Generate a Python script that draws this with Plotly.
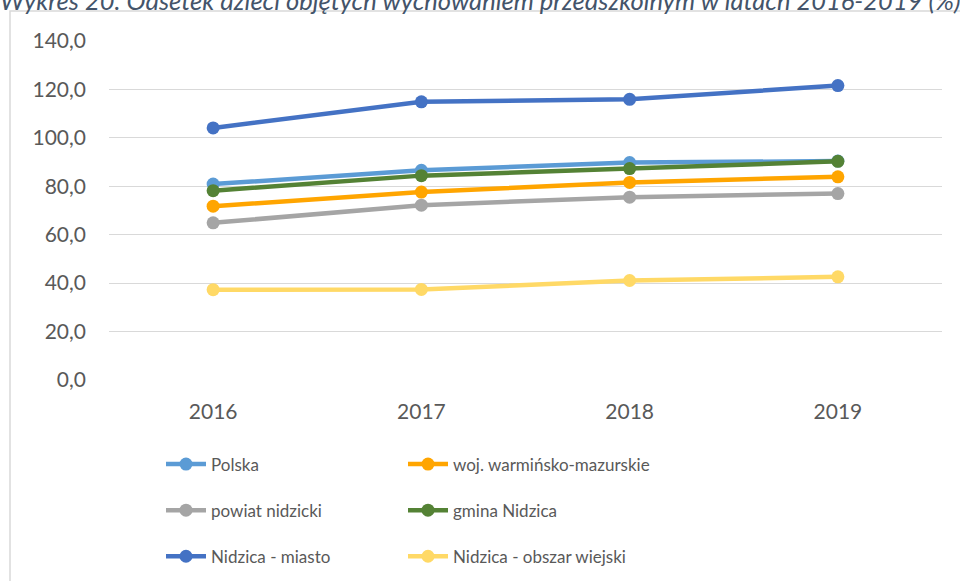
import plotly.graph_objects as go

years = ["2016", "2017", "2018", "2019"]
polska = [80.9, 86.6, 89.8, 90.4]
woj = [71.8, 77.6, 81.6, 83.9]
powiat = [64.9, 72.2, 75.5, 77.0]
gmina = [78.2, 84.4, 87.3, 90.3]
miasto = [104.1, 114.9, 115.9, 121.6]
wiejski = [37.3, 37.4, 41.1, 42.6]

series = [
    ("Polska", polska, "#5B9BD5", "legend", "g1"),
    ("woj. warmińsko-mazurskie", woj, "#FFA500", "legend2", "g2"),
    ("powiat nidzicki", powiat, "#A5A5A5", "legend", "g3"),
    ("gmina Nidzica", gmina, "#548235", "legend2", "g4"),
    ("Nidzica - miasto", miasto, "#4472C4", "legend", "g5"),
    ("Nidzica - obszar wiejski", wiejski, "#FFD966", "legend2", "g6"),
]

FONT = "Lato, 'Open Sans', sans-serif"
W, H = 960, 581
ML, MR, MT, MB = 109, 18, 41, 201
PW = W - ML - MR
PH = H - MT - MB

def px_x(px):
    return (px - ML) / PW

def px_y(py):
    return (H - MB - py) / PH

fig = go.Figure()
for name, vals, color, leg, grp in series:
    fig.add_trace(go.Scatter(
        x=years, y=vals, name=name, mode="lines+markers",
        line=dict(color=color, width=4.5),
        marker=dict(color=color, size=13),
        legend=leg, legendgroup=grp,
    ))

legend_common = dict(
    orientation="v", xanchor="left", yanchor="top",
    font=dict(family=FONT, size=17, color="#595959"),
    bgcolor="rgba(0,0,0,0)", tracegroupgap=21, itemwidth=40,
)

fig.update_layout(
    width=W, height=H,
    margin=dict(l=ML, r=MR, t=MT, b=MB, autoexpand=False),
    paper_bgcolor="white", plot_bgcolor="white",
    separators=", ",
    font=dict(family=FONT, size=20, color="#595959"),
    xaxis=dict(
        type="category", range=[-0.5, 3.5], showgrid=False, zeroline=False,
        showline=False, ticks="", tickfont=dict(size=21, color="#595959"),
        ticklabelstandoff=17, automargin=False,
    ),
    yaxis=dict(
        range=[0, 140], dtick=20, tickformat=".1f", showgrid=True,
        gridcolor="#D9D9D9", gridwidth=1.3, zeroline=False, showline=False,
        ticks="", tickfont=dict(size=21, color="#595959"),
        ticklabelstandoff=22, automargin=False,
    ),
    legend=dict(x=px_x(161), y=px_y(446.5), **legend_common),
    legend2=dict(x=px_x(403), y=px_y(446.5), **legend_common),
    showlegend=True,
    shapes=[dict(
        type="rect", xref="paper", yref="paper",
        x0=px_x(10), x1=px_x(965), y0=px_y(590), y1=px_y(11),
        line=dict(color="#D9D9D9", width=1.5), fillcolor="rgba(0,0,0,0)",
        layer="below",
    )],
    annotations=[dict(
        text="<i>Wykres 20. Odsetek dzieci objętych wychowaniem przedszkolnym w latach 2016-2019 (%)</i>",
        xref="paper", yref="paper", x=px_x(-2), y=px_y(0),
        xanchor="left", yanchor="middle", showarrow=False,
        font=dict(family=FONT, size=25.5, color="#44546A"),
    )],
)

fig.write_html(
    "out.html",
    config={"displayModeBar": False},
    post_script="document.body.style.margin='0';document.body.style.overflow='hidden';",
)
